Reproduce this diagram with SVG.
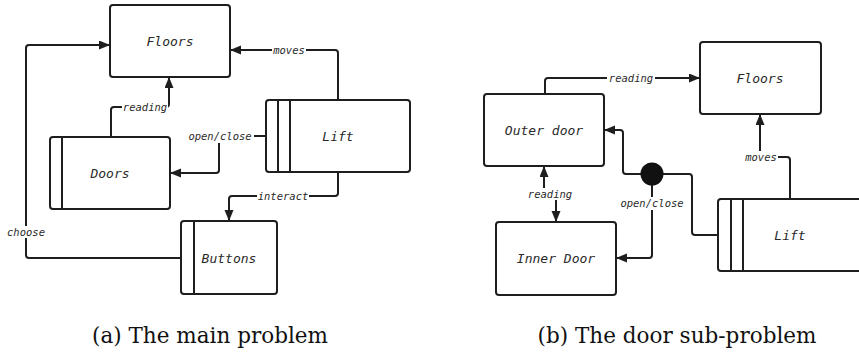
<svg xmlns="http://www.w3.org/2000/svg" width="859" height="354" viewBox="0 0 859 354">
<style>
.box{fill:#fff;stroke:#1e1e1e;stroke-width:2}
.div{stroke:#1e1e1e;stroke-width:2}
.edge{fill:none;stroke:#1e1e1e;stroke-width:2}
.nt{font-family:"DejaVu Sans Mono","Liberation Mono",monospace;font-style:italic;font-size:13px;fill:#2a2a2a;text-anchor:middle}
.lt{font-family:"DejaVu Sans Mono","Liberation Mono",monospace;font-style:italic;font-size:10.5px;fill:#2a2a2a;text-anchor:middle}
.lb{fill:#fff}
.cap{font-family:"DejaVu Serif",serif;font-size:22px;fill:#111;text-anchor:middle}
</style>
<defs>
<marker id="arr" markerUnits="userSpaceOnUse" markerWidth="12" markerHeight="10" refX="11" refY="4.5" orient="auto">
<path d="M0,0 L11,4.5 L0,9 z" fill="#1e1e1e"/>
</marker>
</defs>
<g id="connectors">
<path class="edge" marker-end="url(#arr)" d="M181,258 H29 Q26,258 26,255 V48 Q26,45 29,45 H110"/>
<path class="edge" marker-end="url(#arr)" d="M338,100 V53 Q338,50 335,50 H230"/>
<path class="edge" marker-end="url(#arr)" d="M111,137 V110 Q111,107 114,107 H166 Q169,107 169,104 V77"/>
<path class="edge" marker-end="url(#arr)" d="M266,136 H222 Q219,136 219,139 V170 Q219,173 216,173 H170"/>
<path class="edge" marker-end="url(#arr)" d="M338,172 V193 Q338,196 335,196 H232 Q229,196 229,199 V221"/>
<path class="edge" marker-end="url(#arr)" d="M545,94 V81 Q545,78 548,78 H700"/>
<path class="edge" marker-end="url(#arr)" d="M544,189 V166"/>
<path class="edge" marker-end="url(#arr)" d="M556,199 V222"/>
<path class="edge" marker-end="url(#arr)" d="M790,199 V160 Q790,157 787,157 H760 V114"/>
<path class="edge" d="M718,235 H695 Q692,235 692,232 V177 Q692,174 689,174 H652"/>
<path class="edge" marker-end="url(#arr)" d="M652,174 H626 Q623,174 623,171 V133 Q623,130 620,130 H604"/>
<path class="edge" marker-end="url(#arr)" d="M652,174 V255 Q652,258 649,258 H616"/>
<circle cx="652" cy="174" r="11.5" fill="#111"/>
<rect class="lb" x="6" y="226" width="40" height="12"/>
<text class="lt" x="26" y="235.5">choose</text>
<rect class="lb" x="272" y="44" width="34" height="12"/>
<text class="lt" x="289" y="53.5">moves</text>
<rect class="lb" x="122" y="101" width="46" height="12"/>
<text class="lt" x="145" y="110.5">reading</text>
<rect class="lb" x="186" y="129" width="68" height="14"/>
<text class="lt" x="220" y="139.5">open/close</text>
<rect class="lb" x="257" y="190" width="52" height="12"/>
<text class="lt" x="283" y="199.5">interact</text>
<rect class="lb" x="607" y="72" width="48" height="12"/>
<text class="lt" x="631" y="81.5">reading</text>
<rect class="lb" x="526" y="188" width="48" height="12"/>
<text class="lt" x="550" y="197.5">reading</text>
<rect class="lb" x="743" y="151" width="35" height="12"/>
<text class="lt" x="761" y="160.5">moves</text>
<rect class="lb" x="618" y="197" width="68" height="13"/>
<text class="lt" x="652" y="206.5">open/close</text>
</g>
<g id="floors-a">
<rect class="box" x="110" y="5" width="120" height="72" rx="3"/>
<text class="nt" x="170" y="45.5">Floors</text>
</g>
<g id="lift-a">
<rect class="box" x="266" y="100" width="144" height="72" rx="3"/>
<line class="div" x1="278" y1="100" x2="278" y2="172"/>
<line class="div" x1="290" y1="100" x2="290" y2="172"/>
<text class="nt" x="338" y="140.5">Lift</text>
</g>
<g id="doors-a">
<rect class="box" x="50" y="137" width="120" height="72" rx="3"/>
<line class="div" x1="62" y1="137" x2="62" y2="209"/>
<text class="nt" x="110" y="177.5">Doors</text>
</g>
<g id="buttons-a">
<rect class="box" x="181" y="221" width="96" height="73" rx="3"/>
<line class="div" x1="194" y1="221" x2="194" y2="294"/>
<text class="nt" x="229" y="262.5">Buttons</text>
</g>
<g id="floors-b">
<rect class="box" x="700" y="42" width="121" height="72" rx="3"/>
<text class="nt" x="760" y="82.5">Floors</text>
</g>
<g id="outer-door-b">
<rect class="box" x="484" y="94" width="120" height="72" rx="3"/>
<text class="nt" x="544" y="134.5">Outer door</text>
</g>
<g id="inner-door-b">
<rect class="box" x="496" y="222" width="120" height="73" rx="3"/>
<text class="nt" x="556" y="262.5">Inner Door</text>
</g>
<g id="lift-b">
<rect class="box" x="718" y="199" width="160" height="72" rx="3"/>
<line class="div" x1="731" y1="199" x2="731" y2="271"/>
<line class="div" x1="743" y1="199" x2="743" y2="271"/>
<text class="nt" x="790" y="239.5">Lift</text>
</g>
<g id="captions">
<text class="cap" x="210" y="343" textLength="236" lengthAdjust="spacingAndGlyphs">(a) The main problem</text>
<text class="cap" x="677" y="343" textLength="279" lengthAdjust="spacingAndGlyphs">(b) The door sub-problem</text>
</g>
</svg>
